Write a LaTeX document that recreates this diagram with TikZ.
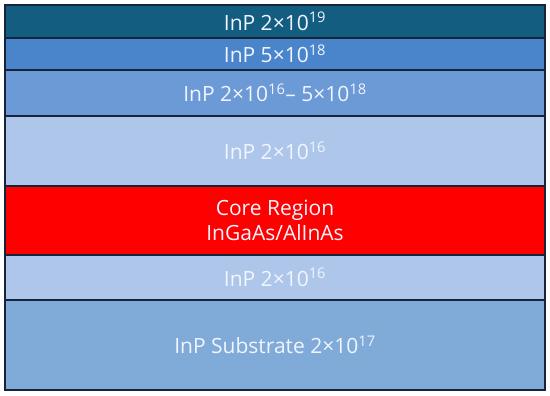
\documentclass[tikz,border=0pt]{standalone}
\usepackage{fontspec}
\setmainfont{Open Sans}
\usepackage{tikz}
\usetikzlibrary{positioning}

\definecolor{capblue}{RGB}{19,94,128}
\definecolor{contblue}{RGB}{74,133,204}
\definecolor{gradblue}{RGB}{108,154,214}
\definecolor{cladblue}{RGB}{174,198,234}
\definecolor{subblue}{RGB}{128,170,216}
\definecolor{coreRed}{RGB}{255,0,0}
\definecolor{edgeNavy}{RGB}{22,36,58}
\definecolor{labelWhite}{RGB}{240,245,255}

\tikzset{
  layer/.style={draw=edgeNavy, line width=1.4pt, minimum width=540pt,
    inner sep=0pt, outer sep=0pt, anchor=north, align=center,
    text=labelWhite, font=\fontsize{21}{25}\selectfont},
}

\begin{document}
\begin{tikzpicture}
  \useasboundingbox (0pt,0pt) rectangle (550pt,-396pt);

  %% epitaxial stack, top to bottom
  \node[layer, fill=capblue, minimum height=33pt] (cap) at (275pt,-5pt)
    {InP 2×10\textsuperscript{19}};
  \node[layer, fill=contblue, minimum height=32pt, below=0pt of cap] (contact)
    {InP 5×10\textsuperscript{18}};
  \node[layer, fill=gradblue, minimum height=46pt, below=0pt of contact] (grade)
    {InP 2×10\textsuperscript{16}– 5×10\textsuperscript{18}};
  \node[layer, fill=cladblue, minimum height=70pt, below=0pt of grade] (upclad)
    {InP 2×10\textsuperscript{16}};

  %% active core
  \node[layer, fill=coreRed, minimum height=69pt, below=0pt of upclad] (core)
    {Core Region\\InGaAs/AlInAs};

  \node[layer, fill=cladblue, minimum height=45pt, below=0pt of core] (lowclad)
    {InP 2×10\textsuperscript{16}};
  \node[layer, fill=subblue, minimum height=90pt, below=0pt of lowclad] (substrate)
    {InP Substrate 2×10\textsuperscript{17}};
\end{tikzpicture}
\end{document}
